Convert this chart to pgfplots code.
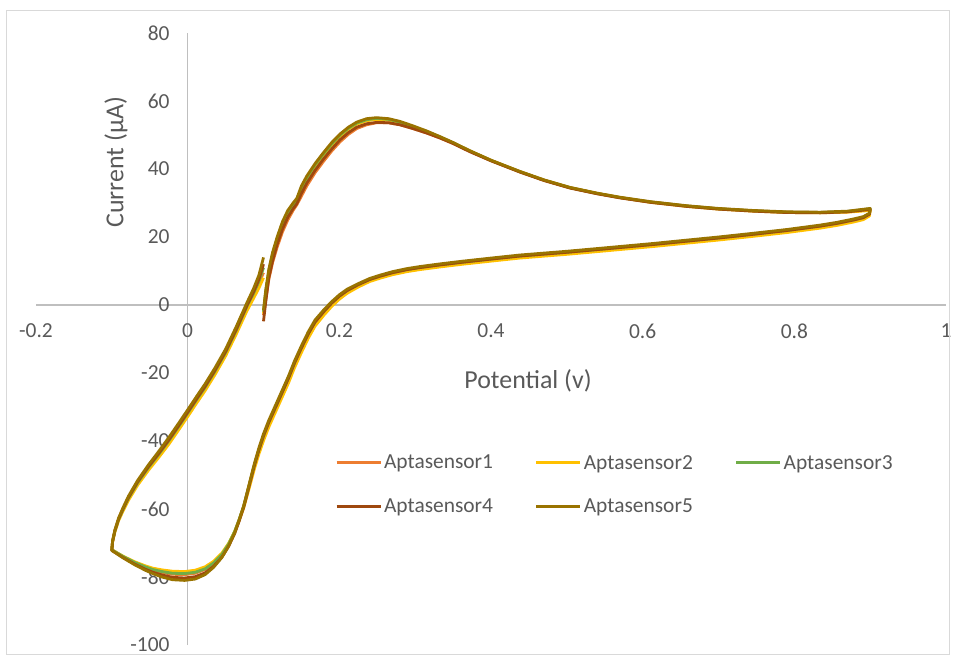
\documentclass[border=0pt]{standalone}
\usepackage{pgfplots}
\pgfplotsset{compat=1.18}
\usepackage{pgfplotstable}
\usepackage{fontspec}
\setmainfont{Carlito}

\definecolor{aptA}{HTML}{ED7D31}
\definecolor{aptB}{HTML}{FFC000}
\definecolor{aptC}{HTML}{70AD47}
\definecolor{aptD}{HTML}{9E480E}
\definecolor{aptE}{HTML}{997300}
\definecolor{txtgray}{HTML}{595959}
\definecolor{axgray}{HTML}{BFBFBF}
\definecolor{framegray}{HTML}{D9D9D9}

% Cyclic voltammograms: forward scan from 0.1 V to 0.9 V,
% reverse scan to -0.1 V, then forward again up to 0.1 V.
\pgfplotstableread{
x      s1     s2     s3     s4     s5
0.100  -3.0   -2.5   -2.0   -4.8   -1.5
0.103   1.5    3.5    4.0    1.0    4.5
0.107   7.5    9.5   10.0    8.0   10.5
0.112  12.5   14.5   15.0   13.0   15.5
0.118  17.0   19.0   19.5   17.8   20.0
0.125  21.5   23.5   24.0   22.3   24.5
0.132  25.0   26.8   27.3   25.8   27.8
0.139  27.8   29.0   29.5   28.3   30.0
0.144  29.5   30.6   31.0   29.8   31.4
0.150  32.0   34.0   34.5   32.8   35.0
0.157  35.0   37.0   37.4   35.8   37.9
0.168  38.9   40.8   41.2   39.6   41.6
0.179  42.2   44.0   44.4   42.9   44.8
0.190  45.3   47.0   47.4   45.9   47.8
0.201  48.0   49.6   50.0   48.6   50.3
0.212  50.2   51.7   52.0   50.7   52.3
0.223  51.9   53.2   53.5   52.3   53.8
0.236  53.0   54.2   54.5   53.3   54.8
0.249  53.6   54.6   54.9   53.7   55.1
0.265  53.6   54.4   54.6   53.6   54.8
0.280  53.0   53.6   53.8   53.0   54.0
0.297  51.9   52.4   52.5   51.9   52.7
0.315  50.6   50.9   51.0   50.6   51.2
0.333  49.1   49.3   49.4   49.1   49.5
0.350  47.5   47.6   47.7   47.5   47.8
0.372  45.2   45.3   45.3   45.1   45.4
0.400  42.5   42.5   42.5   42.4   42.6
0.438  39.2   39.2   39.2   39.1   39.3
0.470  36.7   36.7   36.7   36.6   36.8
0.504  34.5   34.5   34.5   34.4   34.6
0.540  32.8   32.8   32.8   32.7   32.9
0.570  31.6   31.6   31.6   31.5   31.7
0.610  30.3   30.2   30.3   30.2   30.4
0.658  29.1   29.0   29.1   29.0   29.2
0.700  28.3   28.2   28.3   28.2   28.4
0.746  27.7   27.6   27.7   27.6   27.8
0.790  27.3   27.2   27.3   27.2   27.4
0.834  27.2   27.1   27.2   27.1   27.3
0.870  27.4   27.3   27.5   27.4   27.6
0.900  28.0   27.8   28.3   28.1   28.4
0.899  26.6   26.2   26.8   26.7   27.0
0.891  25.6   25.1   25.7   25.7   26.0
0.878  25.0   24.4   25.0   25.0   25.3
0.856  24.0   23.4   24.0   24.0   24.3
0.834  23.2   22.6   23.2   23.2   23.5
0.790  21.9   21.3   21.9   21.9   22.2
0.746  20.8   20.2   20.8   20.8   21.1
0.700  19.7   19.1   19.7   19.7   20.0
0.650  18.6   18.0   18.6   18.6   18.9
0.614  17.8   17.2   17.8   17.8   18.1
0.550  16.5   15.9   16.5   16.5   16.8
0.500  15.5   14.9   15.5   15.5   15.8
0.438  14.4   13.8   14.4   14.4   14.7
0.400  13.5   12.9   13.5   13.5   13.8
0.363  12.6   12.0   12.6   12.6   12.9
0.333  11.8   11.2   11.8   11.8   12.1
0.306  11.0   10.4   11.0   11.0   11.3
0.289  10.4    9.8   10.4   10.4   10.7
0.270   9.5    8.9    9.5    9.5    9.8
0.254   8.5    7.9    8.5    8.5    8.8
0.240   7.5    6.9    7.5    7.5    7.8
0.225   6.0    5.3    6.0    6.0    6.3
0.210   4.2    3.4    4.2    4.2    4.6
0.200   2.6    1.7    2.6    2.6    3.0
0.190   0.6   -0.4    0.6    0.6    1.0
0.180  -1.8   -2.9   -1.8   -1.8   -1.3
0.168  -5.0   -6.2   -5.0   -5.0   -4.4
0.159  -8.5   -9.8   -8.5   -8.5   -7.9
0.150 -12.6  -14.0  -12.6  -12.6  -12.0
0.141 -17.0  -18.4  -17.0  -17.0  -16.4
0.133 -21.5  -22.9  -21.5  -21.5  -20.9
0.124 -26.0  -27.4  -26.0  -26.0  -25.4
0.115 -30.5  -31.9  -30.5  -30.5  -29.9
0.107 -34.5  -35.9  -34.5  -34.5  -33.9
0.100 -38.5  -39.9  -38.5  -38.5  -37.9
0.094 -42.5  -43.8  -42.5  -42.6  -42.0
0.088 -47.1  -48.2  -47.0  -47.2  -46.6
0.081 -53.1  -54.0  -53.0  -53.3  -52.8
0.074 -59.1  -59.6  -59.0  -59.4  -59.0
0.068 -63.1  -63.3  -63.0  -63.5  -63.2
0.062 -66.7  -66.6  -66.6  -67.2  -67.0
0.054 -70.4  -70.1  -70.3  -71.0  -70.9
0.045 -73.5  -73.0  -73.4  -74.2  -74.3
0.034 -76.0  -75.4  -75.9  -76.9  -77.2
0.023 -77.8  -77.0  -77.6  -78.8  -79.3
0.010 -78.9  -78.0  -78.6  -79.9  -80.6
-0.004 -79.3 -78.4  -79.0  -80.3  -81.0
-0.020 -79.2 -78.3  -78.9  -80.1  -80.8
-0.034 -78.6 -77.9  -78.4  -79.4  -80.0
-0.046 -78.0 -77.4  -77.8  -78.6  -79.0
-0.056 -77.2 -76.7  -77.0  -77.7  -78.0
-0.070 -75.8 -75.5  -75.7  -76.2  -76.4
-0.085 -74.0 -73.9  -74.0  -74.3  -74.4
-0.100 -72.0 -72.0  -72.0  -72.2  -72.2
-0.099 -69.5 -69.7  -69.5  -69.6  -69.3
-0.096 -66.5 -66.8  -66.5  -66.4  -66.2
-0.091 -63.0 -63.4  -63.0  -62.9  -62.6
-0.085 -60.0 -60.5  -60.0  -59.8  -59.5
-0.078 -56.8 -57.4  -56.8  -56.6  -56.2
-0.066 -52.3 -53.0  -52.3  -52.0  -51.6
-0.052 -47.9 -48.7  -47.9  -47.6  -47.1
-0.038 -43.9 -44.8  -43.9  -43.6  -43.0
-0.025 -40.0 -41.0  -40.0  -39.7  -39.0
-0.012 -35.8 -36.8  -35.8  -35.5  -34.8
0.001 -31.5  -32.5  -31.5  -31.2  -30.5
0.012 -27.8  -28.8  -27.8  -27.5  -26.8
0.023 -24.2  -25.2  -24.2  -23.9  -23.2
0.036 -19.5  -20.5  -19.5  -19.2  -18.5
0.050 -14.0  -15.0  -14.0  -13.7  -13.0
0.064  -7.6   -8.6   -7.5   -7.2   -6.4
0.078  -0.7   -1.8   -0.5   -0.2    0.6
0.087   3.2    2.0    3.5    3.9    4.9
0.094   6.4    5.0    7.0    7.6    8.8
0.100   9.5    8.0   11.0   12.0   14.0
}\cvdata

\begin{document}
\begin{tikzpicture}
\path[use as bounding box] (-36bp,-10bp) rectangle (919bp,645bp);
\begin{axis}[
  at={(0,0)}, anchor=south west,
  scale only axis, width=910bp, height=612bp,
  xmin=-0.2, xmax=1, ymin=-100, ymax=80,
  enlargelimits=false,
  axis lines=middle,
  axis line style={draw=axgray, line width=1.2bp, -},
  xtick={-0.2,0,0.2,0.4,0.6,0.8,1},
  xticklabels={-0.2,0,0.2,0.4,0.6,0.8,1},
  ytick={-100,-80,-60,-40,-20,0,20,40,60,80},
  yticklabels={-100,-80,-60,-40,-20,0,20,40,60,80},
  major tick length=0pt,
  hide obscured x ticks=false, hide obscured y ticks=false,
  tick label style={font=\fontsize{21.5}{25}\selectfont, text=txtgray, inner sep=0pt},
  xticklabel style={anchor=center, yshift=-26bp},
  yticklabel style={anchor=east, xshift=-18bp},
  xlabel={Potential (v)}, ylabel={Current (µA)},
  every axis x label/.style={at={(axis description cs:0.5407,0.4314)}, anchor=center,
    font=\fontsize{26}{31}\selectfont, text=txtgray},
  every axis y label/.style={at={(axis description cs:0.0879,0.789)}, anchor=center,
    rotate=90, font=\fontsize{26}{31}\selectfont, text=txtgray},
  legend columns=3,
  legend cell align=left,
  legend style={at={(axis description cs:0.3286,0.2623)}, anchor=west,
    draw=none, fill=none, inner sep=0pt,
    font=\fontsize{21.5}{25}\selectfont, text=txtgray,
    nodes={inner xsep=2bp, inner ysep=2bp},
    row sep=24bp,
    /tikz/every even column/.append style={column sep=40bp}},
  legend image code/.code={\draw[#1, line width=2.8bp] (0bp,0bp) -- (44bp,0bp);},
  every axis plot/.append style={line width=2.8bp, line join=round},
]
\addplot[aptA] table[x=x, y=s1] {\cvdata};
\addlegendentry{Aptasensor1}
\addplot[aptB] table[x=x, y=s2] {\cvdata};
\addlegendentry{Aptasensor2}
\addplot[aptC] table[x=x, y=s3] {\cvdata};
\addlegendentry{Aptasensor3}
\addplot[aptD] table[x=x, y=s4] {\cvdata};
\addlegendentry{Aptasensor4}
\addplot[aptE] table[x=x, y=s5] {\cvdata};
\addlegendentry{Aptasensor5}
\end{axis}
\draw[framegray, line width=1bp] (-29bp,634bp) rectangle (913bp,-9bp);
\end{tikzpicture}
\end{document}
